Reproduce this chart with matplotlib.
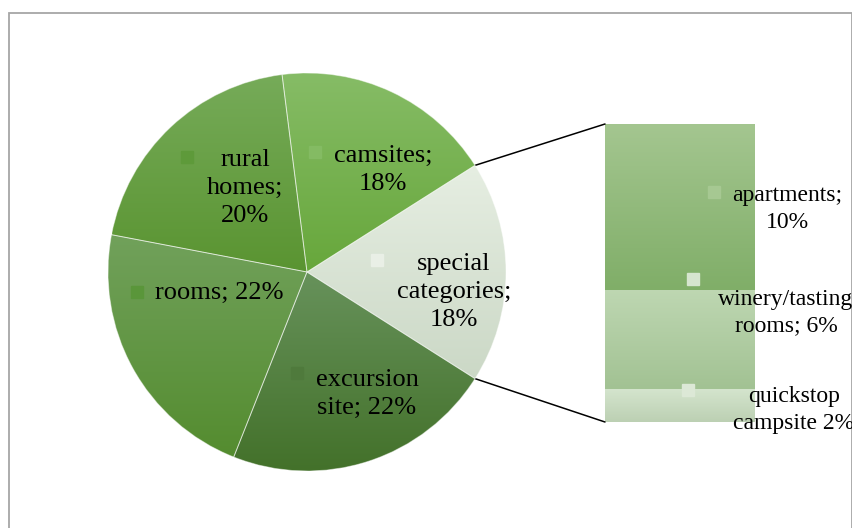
import numpy as np
import matplotlib.pyplot as plt
from matplotlib.colors import LinearSegmentedColormap
from matplotlib.patches import Rectangle, ConnectionPatch

# Pie slices (counter-clockwise starting with the exploded slice)
pie_labels = ["special\ncategories;\n18%", "camsites;\n18%", "rural\nhomes;\n20%",
              "rooms; 22%", "excursion\nsite; 22%"]
pie_values = [18, 18, 20, 22, 22]
pie_tops = ["#e6eee2", "#86bc66", "#76ab59", "#71a15b", "#67925b"]
pie_bottoms = ["#cbd8c6", "#67a73b", "#5a9431", "#548c2f", "#43712a"]

# Breakdown of "special categories", bottom to top
bar_labels = ["quickstop\ncampsite 2%", "winery/tasting\nrooms; 6%", "apartments;\n10%"]
bar_values = [2, 6, 10]
bar_tops = ["#d5e5ce", "#bed7b2", "#a4c690"]
bar_bottoms = ["#bcd0b3", "#a2c293", "#80ae68"]

W, H = 853, 528
plt.rcParams["font.family"] = ["Liberation Serif", "DejaVu Serif"]


def gradient_fill(ax, patch, top, bottom, zorder=1):
    ext = patch.get_path().transformed(patch.get_patch_transform()).get_extents()
    cmap = LinearSegmentedColormap.from_list("g", [bottom, top])
    grad = np.linspace(0, 1, 256).reshape(-1, 1)
    im = ax.imshow(grad, extent=[ext.x0, ext.x1, ext.y0, ext.y1], origin="lower",
                   cmap=cmap, aspect="auto", zorder=zorder, interpolation="bilinear")
    im.set_clip_path(patch)
    return im


fig = plt.figure(figsize=(W / 100, H / 100), dpi=100)
ax = fig.add_axes([0, 0, 1, 1])

# pie geometry in pixel units (y up)
cx, cy, r = 307, H - 272, 199
start = -pie_values[0] / 100 * 360 / 2
wedges, _ = ax.pie(pie_values, startangle=start, counterclock=True,
                   center=(cx, cy), radius=r,
                   wedgeprops=dict(linewidth=0.7, edgecolor=(1, 1, 1, 0.45)))
for w, t, b in zip(wedges, pie_tops, pie_bottoms):
    w.set_facecolor("none")
    w.set_zorder(3)
    gradient_fill(ax, w, t, b, zorder=2)

ax.set_xlim(0, W)
ax.set_ylim(0, H)
ax.set_aspect("auto")
ax.axis("off")

# frame
ax.add_patch(Rectangle((9, -10), 843, H - 13 + 10, facecolor="none",
                       edgecolor="#a6a6a6", linewidth=1.3, zorder=1))

# pie labels (image coords) with legend keys
pie_text_pos = [(454, 292), (383, 170), (245, 188), (219, 293), (367, 394)]
pie_key_pos = [(377, 260), (315, 152), (187, 157), (137, 292), (297, 373)]
pie_key_cols = ["#e9efe6", "#84bb63", "#5e9a3a", "#5a963a", "#4f7a3c"]
for lab, (tx, ty), (kx, ky), kc in zip(pie_labels, pie_text_pos, pie_key_pos, pie_key_cols):
    ax.text(tx, H - ty, lab, ha="center", va="center", fontsize=19,
            linespacing=1.37, color="black", zorder=5)
    ax.plot(kx, H - ky, marker="s", markersize=9, color=kc, zorder=5)

# breakdown bar
bx0, bx1, by0, by1 = 605, 755, 124, 422
ax_bar = fig.add_axes([bx0 / W, (H - by1) / H, (bx1 - bx0) / W, (by1 - by0) / H])
bottoms = np.cumsum([0] + bar_values[:-1])
bars = ax_bar.bar(0, bar_values, bottom=bottoms, width=1.0, linewidth=0)
for p, t, b in zip(bars, bar_tops, bar_bottoms):
    p.set_facecolor("none")
    gradient_fill(ax_bar, p, t, b, zorder=1)
ax_bar.set_xlim(-0.5, 0.5)
ax_bar.set_ylim(0, sum(bar_values))
ax_bar.axis("off")

bar_text_pos = [(794, 410), (786, 313), (787, 209)]
bar_key_pos = [(688, 390), (693, 279), (714, 192)]
bar_key_cols = ["#dce8d6", "#d6e5cf", "#a6c892"]
for lab, (tx, ty), (kx, ky), kc in zip(bar_labels, bar_text_pos, bar_key_pos, bar_key_cols):
    ax.text(tx, H - ty, lab, ha="center", va="center", fontsize=17,
            linespacing=1.33, color="black", zorder=5, clip_on=False)
    ax.plot(kx, H - ky, marker="s", markersize=9, color=kc, zorder=5)
ax.set_zorder(2)
ax.patch.set_visible(False)

# connector lines from the special slice to the bar
w0 = wedges[0]
for ang, yb in [(w0.theta2, 1), (w0.theta1, 0)]:
    px = w0.center[0] + w0.r * np.cos(np.radians(ang))
    py = w0.center[1] + w0.r * np.sin(np.radians(ang))
    con = ConnectionPatch(xyA=(px, py), coordsA=ax.transData,
                          xyB=(0, yb), coordsB=ax_bar.transAxes,
                          color="black", linewidth=1.1)
    fig.add_artist(con)

fig.savefig("out.png", dpi=100)
